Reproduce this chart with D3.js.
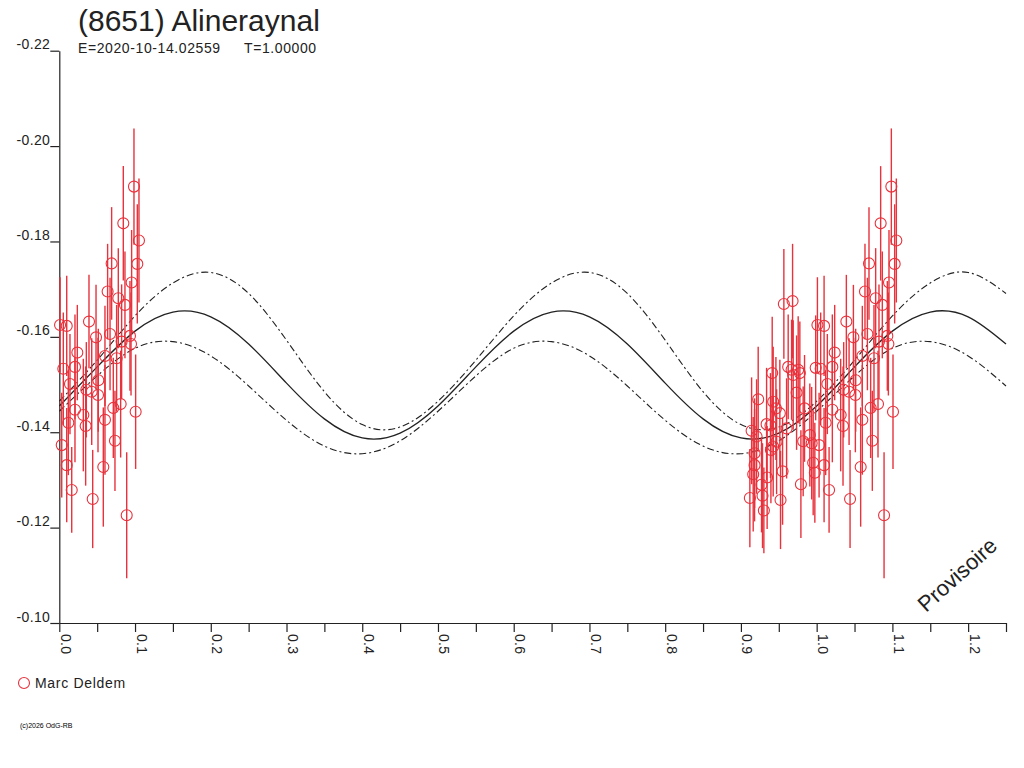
<!DOCTYPE html>
<html><head><meta charset="utf-8">
<script src="https://cdn.jsdelivr.net/npm/d3@7/dist/d3.min.js"></script>
<style>body{margin:0;background:#fff}svg{display:block}</style>
</head><body>
<svg id="c" width="1024" height="768"></svg>
<script>
// ---- texts ----
const titleText = "(8651) Alineraynal";
const epochText = "E=2020-10-14.02559";
const periodText = "T=1.00000";
const observer = "Marc Deldem";
const copyright = "(c)2026 OdG-RB";
const watermark = "Provisoire";

// ---- axes ----
const yTicks = [-0.22, -0.20, -0.18, -0.16, -0.14, -0.12, -0.10];
const yTickLabels = ["-0.22", "-0.20", "-0.18", "-0.16", "-0.14", "-0.12", "-0.10"];
const xTicks = [0.0, 0.1, 0.2, 0.3, 0.4, 0.5, 0.6, 0.7, 0.8, 0.9, 1.0, 1.1, 1.2];
const xTickLabels = ["0.0","0.1","0.2","0.3","0.4","0.5","0.6","0.7","0.8","0.9","1.0","1.1","1.2"];
const xMinorTicks = [0.05, 0.15, 0.25, 0.35, 0.45, 0.55, 0.65, 0.75, 0.85, 0.95, 1.05, 1.15, 1.25];

// ---- measurements (phase, magnitude, error) ----
const phase = [
  0.0986, 0.0845, 0.1052, 0.0691, 0.1030, 0.0955, 0.0638, 0.0779, 0.0867, 0.0010,
  0.0098, 0.0392, 0.0485, 0.0670, 0.0823, 0.0933, 0.0947, 0.0238, 0.0603, 0.0757,
  0.0053, 0.0207, 0.0141, 0.0428, 0.0357, 0.0515, 0.0511, 0.0207, 0.0317, 0.0119,
  0.0348, 0.0713, 0.0810, 0.1008, 0.0603, 0.0032, 0.0735, 0.0098, 0.0581, 0.0164,
  0.0441, 0.0890,
  0.9567, 0.9682, 0.9624, 0.9413, 0.9669, 0.9756, 0.9778, 0.9690, 0.9987, 0.9735,
  0.9228, 0.9426, 0.9462, 0.9514, 0.9840, 0.9339, 0.9390, 0.9603, 0.9141, 0.9207,
  0.9910, 0.9822, 0.9471, 0.9934, 0.9396, 0.9426, 0.9180, 0.9954, 0.9180, 0.9976,
  0.9550, 0.9162, 0.9346, 0.9272, 0.9792, 0.9118, 0.9285, 0.9523, 0.9303
];
const mag = [
  -0.1915, -0.1838, -0.1802, -0.1754, -0.1753, -0.1714, -0.1695, -0.1681, -0.1667, -0.1625,
  -0.1623, -0.1632, -0.1599, -0.1606, -0.1590, -0.1602, -0.1585, -0.1567, -0.1560, -0.1555,
  -0.1533, -0.1537, -0.1501, -0.1485, -0.1489, -0.1509, -0.1478, -0.1447, -0.1436, -0.1420,
  -0.1413, -0.1451, -0.1459, -0.1443, -0.1426, -0.1373, -0.1382, -0.1331, -0.1327, -0.1279,
  -0.1260, -0.1226,
  -0.1669, -0.1675, -0.1537, -0.1524, -0.1531, -0.1531, -0.1524, -0.1520, -0.1535, -0.1483,
  -0.1469, -0.1464, -0.1450, -0.1440, -0.1450, -0.1417, -0.1414, -0.1408, -0.1403, -0.1391,
  -0.1394, -0.1381, -0.1380, -0.1377, -0.1363, -0.1370, -0.1356, -0.1336, -0.1331, -0.1315,
  -0.1318, -0.1312, -0.1305, -0.1290, -0.1291, -0.1262, -0.1267, -0.1258, -0.1236
];
const err = [
  0.0122, 0.0120, 0.0130, 0.0118, 0.0125, 0.0110, 0.0100, 0.0105, 0.0112, 0.0100,
  0.0105, 0.0098, 0.0110, 0.0118, 0.0120, 0.0115, 0.0108, 0.0100, 0.0105, 0.0112,
  0.0118, 0.0110, 0.0105, 0.0112, 0.0100, 0.0108, 0.0120, 0.0110, 0.0118, 0.0110,
  0.0125, 0.0105, 0.0112, 0.0120, 0.0115, 0.0110, 0.0105, 0.0120, 0.0125, 0.0090,
  0.0103, 0.0132,
  0.0115, 0.0120, 0.0110, 0.0118, 0.0105, 0.0112, 0.0108, 0.0115, 0.0110, 0.0120,
  0.0110, 0.0115, 0.0108, 0.0112, 0.0112, 0.0118, 0.0110, 0.0105, 0.0112, 0.0120,
  0.0108, 0.0115, 0.0110, 0.0118, 0.0112, 0.0105, 0.0115, 0.0110, 0.0118, 0.0105,
  0.0112, 0.0120, 0.0108, 0.0100, 0.0113, 0.0103, 0.0110, 0.0103, 0.0090
];

// ---- fitted curve and its envelope, read every 0.05 in phase ----
const curvePhase = [0.00,0.05,0.10,0.15,0.20,0.25,0.30,0.35,0.40,0.45,
                    0.50,0.55,0.60,0.65,0.70,0.75,0.80,0.85,0.90,0.95,
                    1.00,1.05,1.10,1.15,1.20,1.25];
const fitMag = [-0.1455,-0.1537,-0.1612,-0.1652,-0.1642,-0.1585,-0.1503,-0.1428,-0.1388,-0.1398,
                -0.1455,-0.1537,-0.1612,-0.1652,-0.1642,-0.1585,-0.1503,-0.1428,-0.1388,-0.1398,
                -0.1455,-0.1537,-0.1612,-0.1652,-0.1642,-0.1585];
const upperMag = [-0.1465,-0.1551,-0.1644,-0.1713,-0.1735,-0.1691,-0.1593,-0.1485,-0.1416,-0.1411,
                  -0.1465,-0.1551,-0.1644,-0.1713,-0.1735,-0.1691,-0.1593,-0.1485,-0.1416,-0.1411,
                  -0.1465,-0.1551,-0.1644,-0.1713,-0.1735,-0.1691];
const lowerMag = [-0.1444,-0.1518,-0.1576,-0.1590,-0.1560,-0.1497,-0.1425,-0.1371,-0.1355,-0.1382,
                  -0.1444,-0.1518,-0.1576,-0.1590,-0.1560,-0.1497,-0.1425,-0.1371,-0.1355,-0.1382,
                  -0.1444,-0.1518,-0.1576,-0.1590,-0.1560,-0.1497];

// ---- drawing ----
const RED = "#e8323c", INK = "#222";
const FONT = "'Liberation Sans', Arial, Helvetica, sans-serif";
const svg = d3.select("#c");
svg.append("rect").attr("width",1024).attr("height",768).attr("fill","#fff");

const x = d3.scaleLinear().domain([0, 1.25]).range([59.3, 1006]);
const y = d3.scaleLinear().domain([-0.22, -0.10]).range([50.7, 623]);

// title
svg.append("text").attr("x",78).attr("y",31).attr("font-family",FONT)
  .attr("font-size",30).attr("fill",INK).text(titleText);
svg.append("text").attr("x",78).attr("y",53).attr("font-family",FONT)
  .attr("font-size",14).attr("letter-spacing","0.6px").attr("fill",INK).text(epochText);
svg.append("text").attr("x",244).attr("y",53).attr("font-family",FONT)
  .attr("font-size",14).attr("letter-spacing","0.6px").attr("fill",INK).text(periodText);

// y axis
const gy = svg.append("g").attr("transform",`translate(${x(0)},0)`)
  .call(d3.axisLeft(y).tickValues(yTicks).tickSize(9).tickSizeOuter(0)
        .tickFormat((d,i)=>yTickLabels[i]));
gy.select(".domain").attr("stroke",INK).attr("stroke-width",1.2);
gy.selectAll(".tick line").attr("stroke",INK).attr("stroke-width",1.2);
gy.selectAll(".tick text").attr("x",-9).attr("dy","-2px").attr("font-family",FONT)
  .attr("font-size",14).attr("letter-spacing","0.4px").attr("fill",INK);

// x axis
const gx = svg.append("g").attr("transform",`translate(0,${y(-0.10)})`)
  .call(d3.axisBottom(x).tickValues(xTicks).tickSize(9).tickSizeOuter(0)
        .tickFormat((d,i)=>xTickLabels[i]));
gx.select(".domain").attr("stroke",INK).attr("stroke-width",1.2);
gx.selectAll(".tick line").attr("stroke",INK).attr("stroke-width",1.2);
gx.selectAll(".tick text").attr("transform","rotate(90)").attr("x",11).attr("y",-1)
  .attr("dy",0).attr("text-anchor","start").attr("font-family",FONT)
  .attr("font-size",14).attr("letter-spacing","0.3px").attr("fill",INK);
const gxm = svg.append("g").attr("transform",`translate(0,${y(-0.10)})`)
  .call(d3.axisBottom(x).tickValues(xMinorTicks).tickSize(9).tickSizeOuter(0).tickFormat(""));
gxm.select(".domain").remove();
gxm.selectAll(".tick line").attr("stroke",INK).attr("stroke-width",1.2);

// curves
const curveData = curvePhase.map((p,i)=>({p, f:fitMag[i], u:upperMag[i], l:lowerMag[i]}));
const mk = key => d3.line().x(d=>x(d.p)).y(d=>y(d[key])).curve(d3.curveNatural);
svg.append("path").datum(curveData).attr("d",mk("f")).attr("fill","none")
  .attr("stroke",INK).attr("stroke-width",1.3);
svg.append("path").datum(curveData).attr("d",mk("u")).attr("fill","none")
  .attr("stroke",INK).attr("stroke-width",1.1).attr("stroke-dasharray","7,3,2,3");
svg.append("path").datum(curveData).attr("d",mk("l")).attr("fill","none")
  .attr("stroke",INK).attr("stroke-width",1.1).attr("stroke-dasharray","7,3,2,3");

// points (each phase shown again one cycle later when inside the plotted range)
const pts = [];
phase.forEach((p,i)=>{
  [p, p+1].forEach(q=>{ if (q >= 0 && q <= 1.25) pts.push({p:q, m:mag[i], e:err[i]}); });
});
const gp = svg.append("g");
gp.selectAll("line.eb").data(pts).join("line").attr("class","eb")
  .attr("x1",d=>x(d.p)).attr("x2",d=>x(d.p))
  .attr("y1",d=>y(d.m-d.e)).attr("y2",d=>y(d.m+d.e))
  .attr("stroke",RED).attr("stroke-width",1.4);
gp.selectAll("circle").data(pts).join("circle")
  .attr("cx",d=>x(d.p)).attr("cy",d=>y(d.m)).attr("r",5.5)
  .attr("fill","none").attr("stroke",RED).attr("stroke-width",1.1);

// legend
svg.append("circle").attr("cx",24).attr("cy",683).attr("r",5.5)
  .attr("fill","none").attr("stroke",RED).attr("stroke-width",1.1);
svg.append("text").attr("x",35).attr("y",688).attr("font-family",FONT)
  .attr("font-size",14).attr("letter-spacing","0.7px").attr("fill",INK).text(observer);

// footer
svg.append("text").attr("x",20).attr("y",728).attr("font-family",FONT)
  .attr("font-size",7).attr("fill","#000").text(copyright);

// watermark
svg.append("text").attr("transform","translate(926,613) rotate(-42)")
  .attr("font-family",FONT).attr("font-size",22).attr("fill",INK).text(watermark);
</script>
</body></html>
